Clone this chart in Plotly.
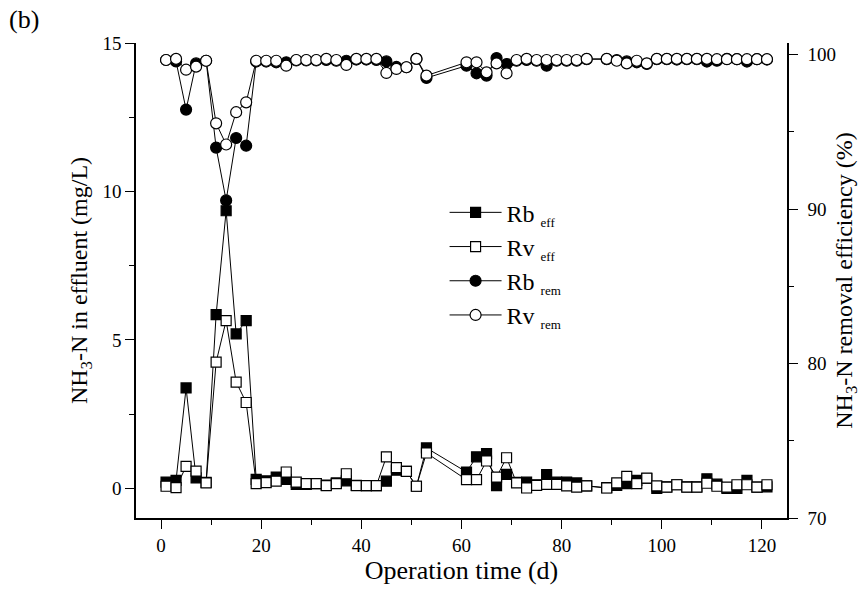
import plotly.graph_objects as go

days = [1, 3, 5, 7, 9, 11, 13, 15, 17, 19, 21, 23, 25, 27, 29, 31, 33, 35, 37, 39, 41, 43, 45, 47, 49, 51, 53,
        61, 63, 65, 67, 69, 71, 73, 75, 77, 79, 81, 83, 85,
        89, 91, 93, 95, 97, 99, 101, 103, 105, 107, 109, 111, 113, 115, 117, 119, 121]

rb_eff = [0.21, 0.27, 3.38, 0.35, 0.20, 5.85, 9.35, 5.20, 5.65, 0.30, 0.25, 0.38, 0.30, 0.13, 0.13, 0.16, 0.11, 0.18, 0.25, 0.10, 0.09, 0.09, 0.24, 0.61, 0.57, 0.07, 1.36,
          0.55, 1.06, 1.17, 0.09, 0.47, 0.20, 0.21, 0.12, 0.46, 0.21, 0.21, 0.18, 0.08,
          0.02, 0.10, 0.16, 0.27, 0.33, 0.00, 0.05, 0.12, 0.05, 0.05, 0.32, 0.14, 0.00, 0.00, 0.27, 0.04, 0.05]

rv_eff = [0.07, 0.02, 0.74, 0.58, 0.18, 4.25, 5.65, 3.58, 2.89, 0.16, 0.19, 0.24, 0.55, 0.21, 0.16, 0.16, 0.09, 0.16, 0.49, 0.09, 0.09, 0.09, 1.06, 0.70, 0.57, 0.07, 1.19,
          0.29, 0.29, 0.92, 0.38, 1.03, 0.18, 0.01, 0.10, 0.13, 0.13, 0.08, 0.04, 0.08,
          0.01, 0.18, 0.40, 0.16, 0.34, 0.08, 0.04, 0.12, 0.04, 0.04, 0.17, 0.07, 0.04, 0.12, 0.12, 0.04, 0.12]

rb_rem = [99.65, 99.56, 96.44, 99.43, 99.60, 93.98, 90.56, 94.60, 94.10, 99.55, 99.55, 99.50, 99.50, 99.62, 99.62, 99.62, 99.65, 99.60, 99.60, 99.68, 99.68, 99.65, 99.56, 99.20, 99.18, 99.72, 98.49,
          99.28, 98.79, 98.64, 99.78, 99.39, 99.60, 99.65, 99.60, 99.28, 99.60, 99.60, 99.60, 99.70,
          99.70, 99.65, 99.56, 99.50, 99.40, 99.70, 99.70, 99.68, 99.70, 99.70, 99.55, 99.60, 99.72, 99.70, 99.55, 99.70, 99.68]

rv_rem = [99.65, 99.72, 99.02, 99.22, 99.60, 95.55, 94.18, 96.27, 96.91, 99.60, 99.60, 99.60, 99.28, 99.65, 99.65, 99.65, 99.72, 99.65, 99.33, 99.72, 99.72, 99.72, 98.81, 99.07, 99.18, 99.72, 98.64,
          99.50, 99.50, 98.85, 99.43, 98.79, 99.65, 99.72, 99.65, 99.65, 99.65, 99.65, 99.65, 99.72,
          99.72, 99.60, 99.43, 99.60, 99.43, 99.72, 99.72, 99.72, 99.72, 99.72, 99.72, 99.70, 99.70, 99.70, 99.70, 99.70, 99.70]

FONT = "Liberation Serif"
SUB = "<sub><span style='font-size:13px'>{}</span></sub>"

fig = go.Figure()

def add(x, y, name, symbol, fill, size, yaxis):
    fig.add_trace(go.Scatter(
        x=x, y=y, name=name, mode="lines+markers", yaxis=yaxis,
        line=dict(color="black", width=1),
        marker=dict(symbol=symbol, size=size, color=fill, line=dict(color="black", width=1.2)),
    ))

add(days, rb_eff, "Rb " + SUB.format("eff"), "square", "black", 10, "y")
add(days, rv_eff, "Rv " + SUB.format("eff"), "square", "white", 10, "y")
add(days, rb_rem, "Rb " + SUB.format("rem"), "circle", "black", 11, "y2")
add(days, rv_rem, "Rv " + SUB.format("rem"), "circle", "white", 11, "y2")

tickfont = dict(family=FONT, size=19, color="black")
ytitlefont = dict(family=FONT, size=24, color="black")
xtitlefont = dict(family=FONT, size=26, color="black")

fig.update_layout(
    width=861, height=590,
    margin=dict(l=136, r=74, t=43, b=72, autoexpand=False),
    paper_bgcolor="white", plot_bgcolor="white",
    font=dict(family=FONT, color="black"),
    showlegend=True,
    legend=dict(x=0.474, y=0.69, xanchor="left", yanchor="top",
                font=dict(family=FONT, size=24, color="black"),
                bgcolor="rgba(0,0,0,0)", itemwidth=52, tracegroupgap=0),
    xaxis=dict(range=[-5, 125], dtick=20, tick0=0, ticks="outside", ticklen=9, tickwidth=1.2,
               tickcolor="black", showline=True, linecolor="black", linewidth=1.5,
               showgrid=False, zeroline=False, tickfont=tickfont, automargin=False,
               minor=dict(dtick=10, tick0=0, ticks="outside", ticklen=5, tickcolor="black", tickwidth=1.2),
               title=dict(text="Operation time (d)", font=xtitlefont, standoff=4)),
    xaxis2=dict(range=[-5, 125], overlaying="x", side="top", anchor="y", dtick=10, tick0=0,
                ticks="inside", ticklen=4, tickwidth=1.2, tickcolor="black", automargin=False,
                showline=True, linecolor="black", linewidth=1.5,
                showticklabels=False, showgrid=False, zeroline=False),
    yaxis=dict(range=[-1, 15], dtick=5, tick0=0, ticks="outside", ticklen=9, tickwidth=1.2,
               tickcolor="black", showline=True, linecolor="black", linewidth=1.5,
               showgrid=False, zeroline=False, tickfont=tickfont, automargin=False,
               minor=dict(dtick=2.5, tick0=0, ticks="outside", ticklen=5, tickcolor="black", tickwidth=1.2),
               title=dict(text="NH<sub>3</sub>-N in effluent (mg/L)", font=ytitlefont, standoff=8)),
    yaxis2=dict(range=[70, 100.75], overlaying="y", side="right", anchor="x",
                dtick=10, tick0=70, ticks="outside", ticklen=9, tickwidth=1.2,
                tickcolor="black", showline=True, linecolor="black", linewidth=1.5,
                showgrid=False, zeroline=False, tickfont=tickfont, ticklabelstandoff=6,
                automargin=False,
                minor=dict(dtick=5, tick0=70, ticks="outside", ticklen=5, tickcolor="black", tickwidth=1.2),
                title=dict(text="NH<sub>3</sub>-N removal efficiency (%)", font=ytitlefont, standoff=0)),
    annotations=[dict(text="(b)", xref="paper", yref="paper", x=-0.198, y=1.085,
                      xanchor="left", yanchor="top", showarrow=False,
                      font=dict(family=FONT, size=26, color="black"))],
)

fig.write_html("out.html")
